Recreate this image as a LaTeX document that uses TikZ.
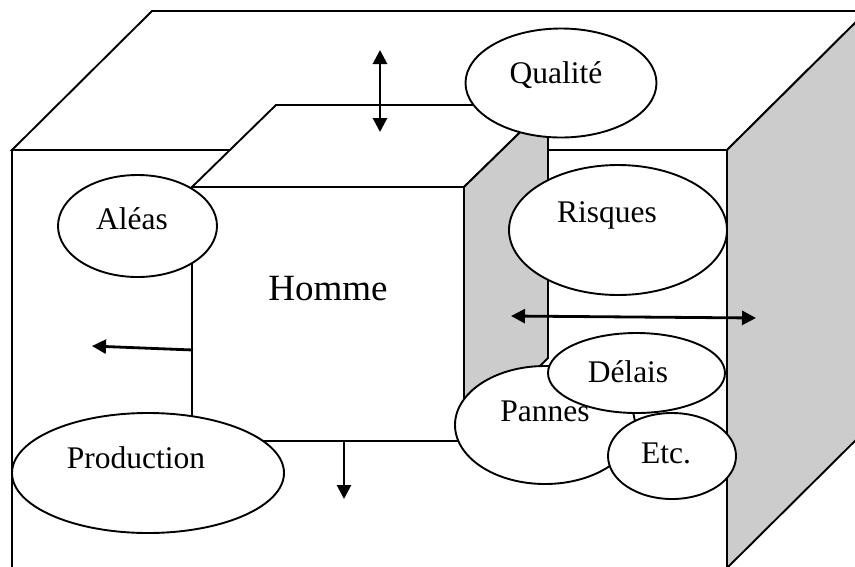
\documentclass[tikz,border=0pt]{standalone}
\usepackage{fontspec}
\setmainfont{Liberation Serif}
\usetikzlibrary{shapes.geometric,arrows.meta}

\begin{document}
\begin{tikzpicture}[x=1pt,y=-1pt,line join=miter,
  edge/.style={line width=1.9pt},
  shade/.style={fill=black!20},
  oval/.style={ellipse,draw,fill=white,line width=1.9pt,inner sep=0pt,outer sep=0pt},
  lbl/.style={font=\fontsize{31.5}{36}\selectfont,anchor=base,inner sep=0pt},
  big/.style={font=\fontsize{37}{44}\selectfont,anchor=base,inner sep=0pt},
  tip/.tip={Triangle[length=14pt,width=14pt]},
  arr/.style={line width=2.8pt,-tip},
  darr/.style={line width=2.8pt,tip-tip}]

\useasboundingbox (0,0) rectangle (855,566);
\clip (0,0) rectangle (855,566);

% outer box: top face, front face, shaded right face
\draw[edge,fill=white] (12,150) -- (152,11) -- (867,11) -- (727,150) -- cycle;
\draw[edge,fill=white] (12,150) rectangle (727,568);
\draw[edge,shade] (727,150) -- (867,11) -- (867,429) -- (727,568) -- cycle;

% inner box
\draw[edge,fill=white] (192,187) -- (276,105) -- (548,105) -- (464,187) -- cycle;
\draw[edge,fill=white] (192,187) rectangle (464,441);
\draw[edge,shade] (464,187) -- (548,105) -- (548,358) -- (464,441) -- cycle;
\node[big] (homme) at (328,300) {Homme};

% ovals
\node[oval,minimum width=159pt,minimum height=102pt] (aleasO) at (137.5,226) {};
\node[lbl] (aleas) at (132,229) {Aléas};
\node[oval,minimum width=272pt,minimum height=120pt] (prodO) at (148,473) {};
\node[lbl] (prod) at (136,468) {Production};
\node[oval,minimum width=191pt,minimum height=109pt] (qualO) at (561,83) {};
\node[lbl] (qual) at (556,83) {Qualité};
\node[oval,minimum width=218pt,minimum height=130pt] (risqO) at (618,230) {};
\node[lbl] (risq) at (607,222) {Risques};
\node[oval,minimum width=180pt,minimum height=118pt] (pannO) at (545,425) {};
\node[lbl] (pann) at (545,421) {Pannes};
\node[oval,minimum width=177pt,minimum height=80pt] (delO) at (636.5,373) {};
\node[lbl] (del) at (628,382) {Délais};
\node[oval,minimum width=128pt,minimum height=86pt] (etcO) at (672,456) {};
\node[lbl] (etc) at (666,463) {Etc.};

% arrows
\coordinate (vTop) at (380,50);
\coordinate (vBot) at (380,132);
\coordinate (hL) at (511,316);
\coordinate (hR) at (756,318);
\coordinate (lS) at (193,350);
\coordinate (lE) at (92,346);
\coordinate (dS) at (344,441);
\coordinate (dE) at (344,499);
\draw[darr] (vTop) -- (vBot);
\draw[darr] (hL) -- (hR);
\draw[arr] (lS) -- (lE);
\draw[arr] (dS) -- (dE);
\end{tikzpicture}
\end{document}
